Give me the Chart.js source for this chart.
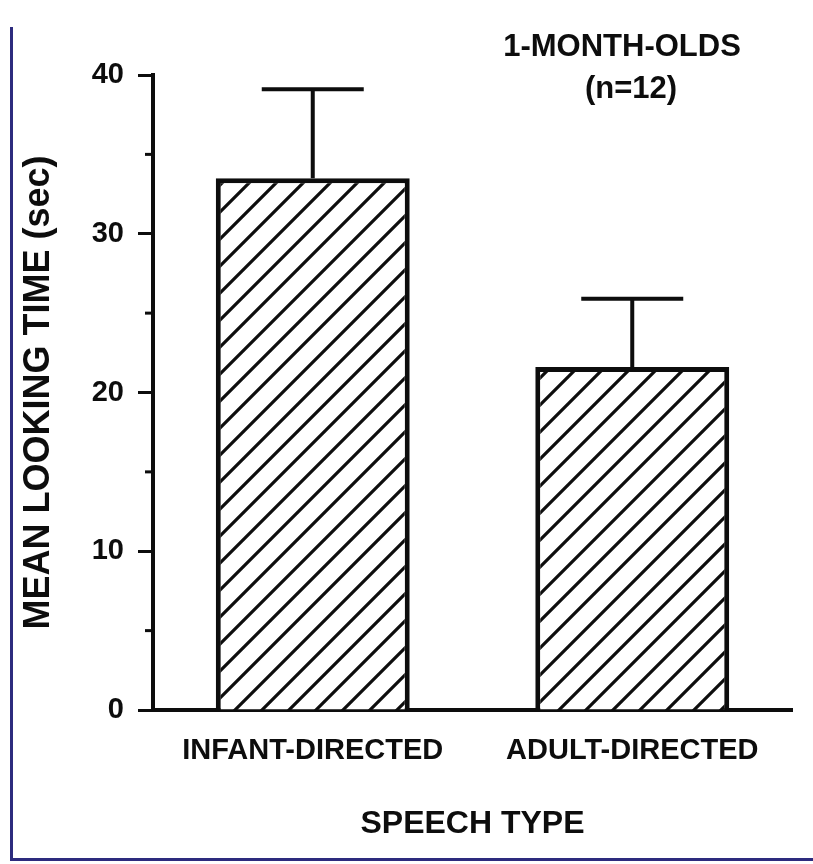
<!DOCTYPE html>
<html lang="en">
<head>
  <meta charset="UTF-8" />
  <title>Mean looking time by speech type</title>
  <style>
    body {
      margin: 0;
      background: #fff;
    }

    .wrap {
      position: relative;
      width: 813px;
      height: 864px;
    }

    .frame {
      position: absolute;
      left: 10px;
      top: 27px;
      width: 803px;
      height: 831px;
      border-left: 3px solid #2d2b7e;
      border-bottom: 3px solid #2d2b7e;
    }

    canvas {
      position: absolute;
      left: 0;
      top: 0;
    }
  </style>
</head>
<body>
  <div class="wrap">
    <div class="frame"></div>
    <canvas id="grafico" width="813" height="864"></canvas>
  </div>

  <script src="https://cdn.jsdelivr.net/npm/chart.js"></script>
  <script>
    const categorias = ["INFANT-DIRECTED", "ADULT-DIRECTED"];
    const medias = [33.5, 21.6];
    const errorArriba = [39.1, 25.9];
    const titulo = ["1-MONTH-OLDS", "(n=12)"];
    const ticksMenores = [5, 15, 25, 35];

    const fuente = "'Liberation Sans', Arial, Helvetica, sans-serif";

    // rayado diagonal para las barras
    function crearRayado() {
      const s = 27;
      const c = document.createElement("canvas");
      c.width = s;
      c.height = s;
      const g = c.getContext("2d");
      g.fillStyle = "#fff";
      g.fillRect(0, 0, s, s);
      g.strokeStyle = "#0d0d0d";
      g.lineWidth = 3.2;
      g.beginPath();
      g.moveTo(-2, s + 2); g.lineTo(s + 2, -2);
      g.moveTo(-2, 2); g.lineTo(2, -2);
      g.moveTo(s - 2, s + 2); g.lineTo(s + 2, s - 2);
      g.stroke();
      return g.createPattern(c, "repeat");
    }

    const extras = {
      id: "extras",
      afterDatasetsDraw(chart) {
        const ctx = chart.ctx;
        const y = chart.scales.y;
        const meta = chart.getDatasetMeta(0);
        ctx.save();
        ctx.strokeStyle = "#0d0d0d";
        ctx.lineCap = "butt";

        // barras de error (solo hacia arriba)
        ctx.lineWidth = 4;
        meta.data.forEach((bar, i) => {
          const yTop = y.getPixelForValue(errorArriba[i]);
          const yBar = y.getPixelForValue(medias[i]);
          ctx.beginPath();
          ctx.moveTo(bar.x, yBar);
          ctx.lineTo(bar.x, yTop);
          ctx.moveTo(bar.x - 51, yTop);
          ctx.lineTo(bar.x + 51, yTop);
          ctx.stroke();
        });

        // ticks menores
        ctx.lineWidth = 3;
        const xEje = chart.chartArea.left;
        ticksMenores.forEach(v => {
          const py = y.getPixelForValue(v);
          ctx.beginPath();
          ctx.moveTo(xEje - 8, py);
          ctx.lineTo(xEje, py);
          ctx.stroke();
        });

        // titulo de la esquina
        ctx.fillStyle = "#0d0d0d";
        ctx.font = "bold 31px " + fuente;
        ctx.textAlign = "center";
        ctx.textBaseline = "middle";
        const right = chart.chartArea.right;
        ctx.fillText(titulo[0], right - 170, 47);
        ctx.fillText(titulo[1], right - 161, 89);
        ctx.restore();
      }
    };

    const ctx = document.getElementById("grafico").getContext("2d");
    window.chart = new Chart(ctx, {
      type: "bar",
      data: {
        labels: categorias,
        datasets: [{
          data: medias,
          backgroundColor: crearRayado(),
          borderColor: "#0d0d0d",
          borderWidth: 5,
          borderSkipped: "start",
          categoryPercentage: 1,
          barPercentage: 0.607
        }]
      },
      options: {
        responsive: false,
        animation: false,
        layout: {
          padding: { top: 75, right: 21, bottom: 17, left: 13 }
        },
        plugins: {
          legend: { display: false },
          tooltip: { enabled: false }
        },
        scales: {
          x: {
            afterFit(scale) { scale.height = 137; },
            grid: { display: false, drawTicks: false },
            border: { display: true, color: "#0d0d0d", width: 4 },
            ticks: {
              color: "#0d0d0d",
              padding: 24,
              font: { family: fuente, size: 29, weight: "bold" }
            },
            title: {
              display: true,
              text: "SPEECH TYPE",
              color: "#0d0d0d",
              font: { family: fuente, size: 32, weight: "bold" }
            }
          },
          y: {
            min: 0,
            max: 40,
            afterFit(scale) { scale.width = 140; },
            grid: {
              drawOnChartArea: false,
              tickLength: 15,
              tickWidth: 3,
              tickColor: c => (c.tick && c.tick.value % 10 === 0) ? "#0d0d0d" : "rgba(0,0,0,0)"
            },
            border: { display: true, color: "#0d0d0d", width: 4 },
            ticks: {
              stepSize: 5,
              color: "#0d0d0d",
              padding: 14,
              font: { family: fuente, size: 29, weight: "bold" },
              callback: v => (v % 10 === 0 ? v : "")
            },
            title: {
              display: true,
              text: "MEAN LOOKING TIME (sec)",
              color: "#0d0d0d",
              font: { family: fuente, size: 36, weight: "bold" }
            }
          }
        }
      },
      plugins: [extras]
    });
  </script>
</body>
</html>
